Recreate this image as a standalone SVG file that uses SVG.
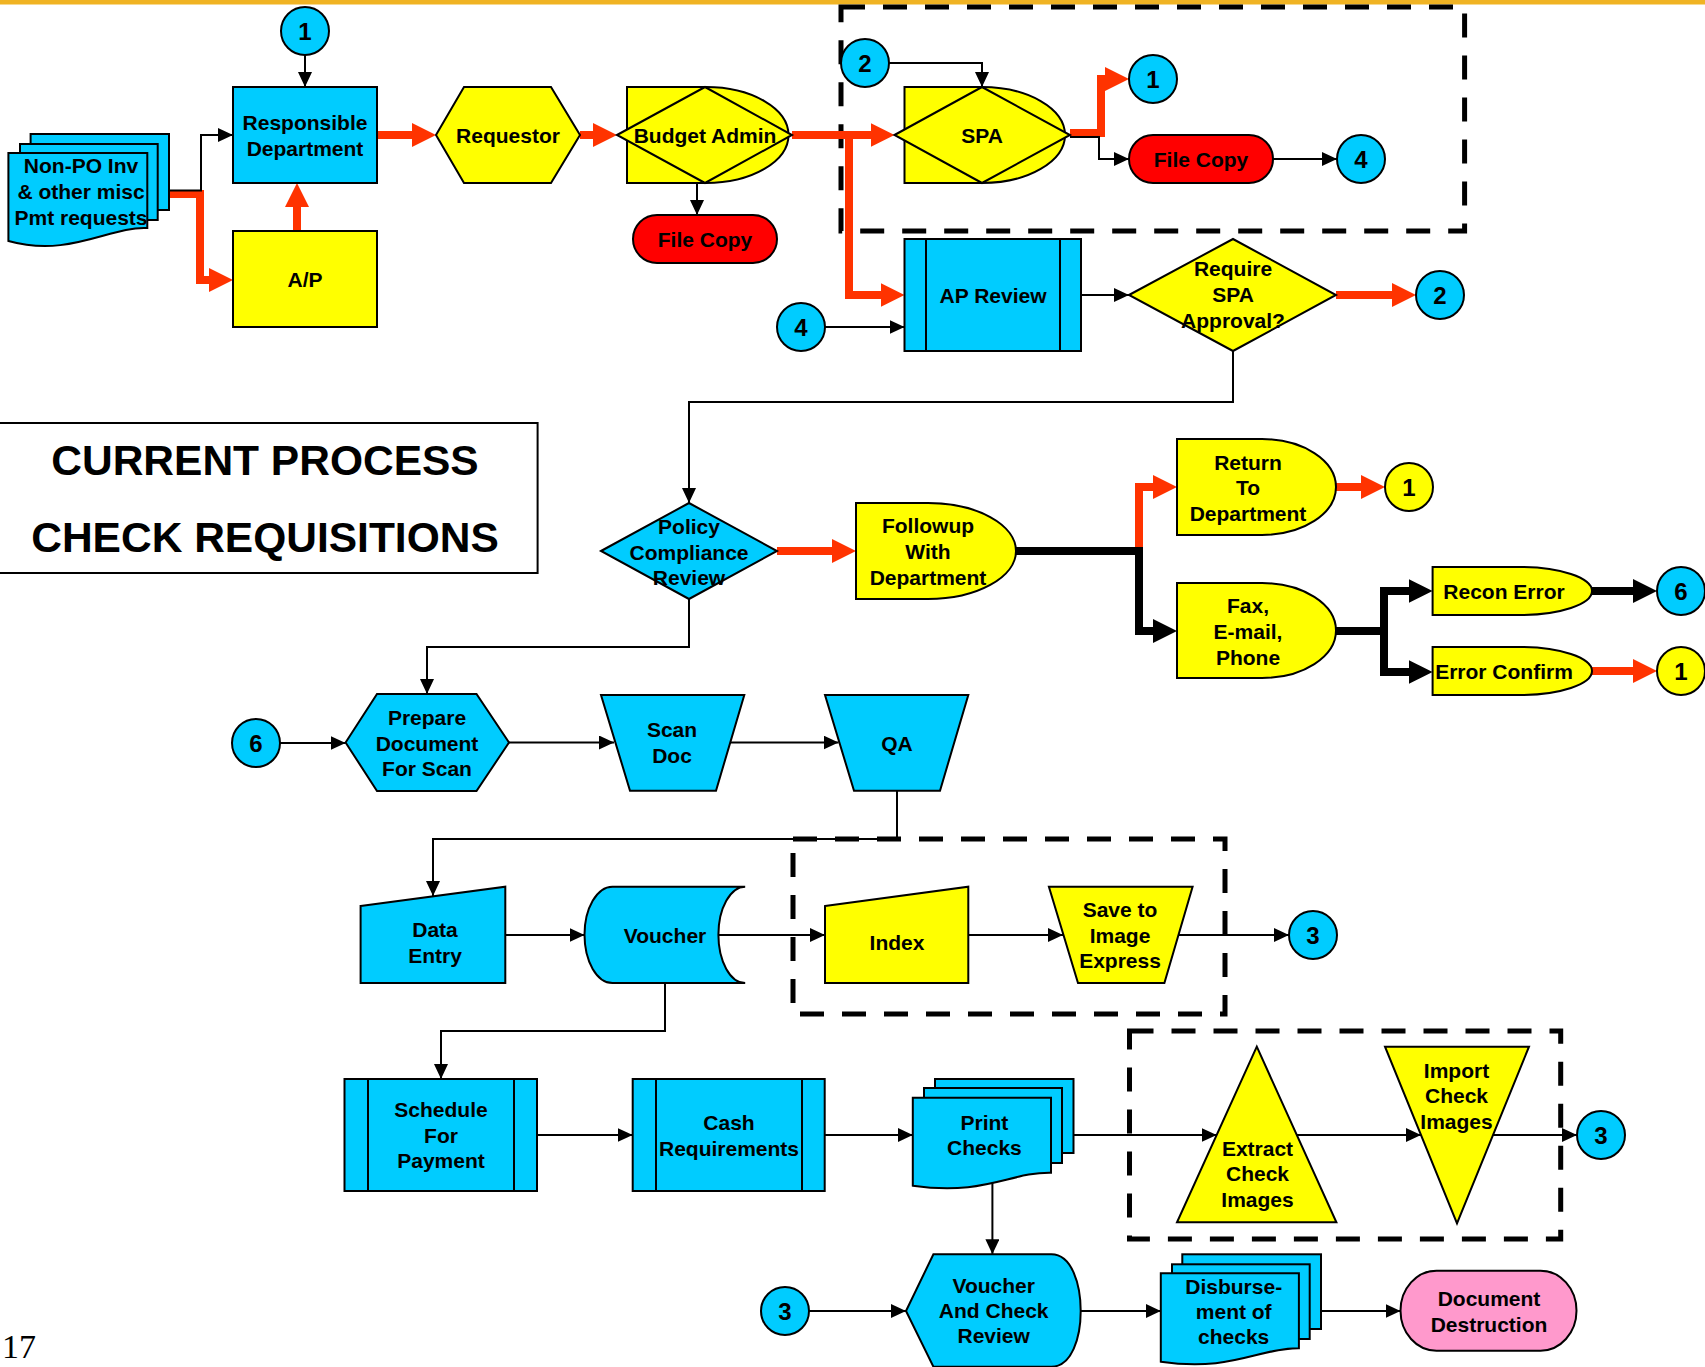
<svg xmlns="http://www.w3.org/2000/svg" width="1705" height="1367" viewBox="0 0 1705 1367">
  <style>
    text { font-family: "Liberation Sans", Arial, sans-serif; font-weight: bold; font-size: 21px; text-anchor: middle; fill: #000; }
    .title { font-size: 42.5px; }
    .num { font-size: 24px; }
    .page { font-family: "Liberation Serif", "Times New Roman", serif; font-weight: normal; font-size: 34px; text-anchor: start; }
    .blue { fill: #00CCFF; stroke: #000; stroke-width: 2; }
    .yel { fill: #FFFF00; stroke: #000; stroke-width: 2; }
    .red { fill: #FF0000; stroke: #000; stroke-width: 2; }
    .pink { fill: #FF99CC; stroke: #000; stroke-width: 2; }
    .line { fill: none; stroke: #000; stroke-width: 2; }
    .thin { fill: none; stroke: #000; stroke-width: 2; marker-end: url(#arr); }
    .hot { fill: none; stroke: #FF3300; stroke-width: 8; stroke-linejoin: miter; marker-end: url(#arrRed); }
    .heavy { fill: none; stroke: #000; stroke-width: 8; stroke-linejoin: miter; marker-end: url(#arrBlk); }
    .dash { fill: none; stroke: #000; stroke-width: 5; stroke-dasharray: 24 18; }
  </style>
  <defs>
    <marker id="arr" markerUnits="userSpaceOnUse" markerWidth="16" markerHeight="14" refX="15" refY="7" orient="auto">
      <path d="M0,0 L15,7 L0,14 z" fill="#000"/>
    </marker>
    <marker id="arrRed" markerUnits="userSpaceOnUse" markerWidth="25" markerHeight="24" refX="1" refY="12" orient="auto">
      <path d="M0,0 L24,12 L0,24 z" fill="#FF3300"/>
    </marker>
    <marker id="arrBlk" markerUnits="userSpaceOnUse" markerWidth="25" markerHeight="24" refX="1" refY="12" orient="auto">
      <path d="M0,0 L24,12 L0,24 z" fill="#000"/>
    </marker>
  </defs>

  <rect width="1705" height="1367" fill="#fff"/>
  <!-- top rule -->
  <rect x="0" y="0" width="1705" height="4.5" fill="#F0B323"/>

  <!-- dashed system boundaries -->
  <g id="boundaries">
    <rect class="dash" x="841" y="7" width="623.6" height="224"/>
    <rect class="dash" x="793" y="839" width="432" height="175"/>
    <rect class="dash" x="1129.5" y="1031" width="431.2" height="208"/>
  </g>

  <!-- connectors -->
  <g id="connectors">
    <path class="thin" d="M305,55 V87"/>
    <path class="hot" d="M169,194 H200 V280 H210"/>
    <path class="thin" d="M169,190.5 H201 V135 H233"/>
    <path class="hot" d="M297,231 V206"/>
    <path class="hot" d="M377,135 H413"/>
    <path class="hot" d="M580,135 H594"/>
    <path class="thin" d="M697,183 V215"/>
    <path class="hot" d="M792,135 H871.5"/>
    <path class="hot" d="M849,135 V295 H881.5"/>
    <path class="thin" d="M889,63 H982 V87"/>
    <path class="hot" d="M1070,133 H1101 V79 H1106"/>
    <path class="thin" d="M1070,137 H1099 V159 H1129"/>
    <path class="thin" d="M1273,159 H1337"/>
    <path class="thin" d="M825,327 H904.5"/>
    <path class="thin" d="M1081,295 H1129"/>
    <path class="hot" d="M1336,295 H1393"/>
    <path class="thin" d="M1233,351 V402 H689 V503"/>
    <path class="thin" d="M689,599 V647 H427 V694"/>
    <path class="hot" d="M777,551 H833"/>
    <path class="hot" d="M1139,547 V487 H1154"/>
    <path class="heavy" d="M1016,551 H1139 V631 H1154"/>
    <path class="hot" d="M1336,487 H1362"/>
    <path class="heavy" d="M1336,631 H1384 V591 H1409.6"/>
    <path class="heavy" d="M1384,631 V672 H1409.6"/>
    <path class="heavy" d="M1592,591 H1634"/>
    <path class="hot" d="M1592,671 H1634"/>
    <path class="thin" d="M280,743 H345.6"/>
    <path class="thin" d="M509,742.5 H614"/>
    <path class="thin" d="M731,742.5 H838.5"/>
    <path class="thin" d="M897,791 V839 H433 V896"/>
    <path class="thin" d="M505.3,935 H584.5"/>
    <path class="thin" d="M718.4,935 H825"/>
    <path class="thin" d="M968.3,935 H1063"/>
    <path class="thin" d="M1178,935 H1289"/>
    <path class="thin" d="M665,983 V1031 H441 V1079"/>
    <path class="thin" d="M537,1135 H632.7"/>
    <path class="thin" d="M824.7,1135 H912.8"/>
    <path class="thin" d="M1073.5,1135 H1216.7"/>
    <path class="thin" d="M1297,1135 H1421"/>
    <path class="thin" d="M1493,1135 H1577"/>
    <path class="thin" d="M992.4,1183 V1254.3"/>
    <path class="thin" d="M808.6,1311 H906"/>
    <path class="thin" d="M1080.7,1311 H1160.8"/>
    <path class="thin" d="M1321,1311 H1400.5"/>
  </g>

  <!-- title block -->
  <g id="title">
    <rect x="-1" y="423" width="538.6" height="150" fill="#fff" stroke="#000" stroke-width="2"/>
    <text class="title" x="265" y="475">CURRENT PROCESS</text>
    <text class="title" x="265" y="552">CHECK REQUISITIONS</text>
  </g>

  <!-- process nodes -->
  <g id="non-po-requests">
    <rect class="blue" x="30.6" y="134" width="138.4" height="76"/>
    <rect class="blue" x="20" y="144" width="137.7" height="76"/>
    <path class="blue" d="M8.4,153 H147.3 V228 C110,226 70,258 8.4,241 Z"/>
    <text x="81" y="173.3">Non-PO Inv</text>
    <text x="81" y="199">&amp; other misc</text>
    <text x="81" y="224.5">Pmt requests</text>
  </g>
  <g id="responsible-department">
    <rect class="blue" x="233" y="87" width="144" height="96"/>
    <text x="305" y="130">Responsible</text>
    <text x="305" y="155.5">Department</text>
  </g>
  <g id="ap">
    <rect class="yel" x="233" y="231" width="144" height="96"/>
    <text x="305" y="286.5">A/P</text>
  </g>
  <g id="requestor">
    <path class="yel" d="M436,135 L464,87 H551 L580,135 L551,183 H464 Z"/>
    <text x="508" y="142.5">Requestor</text>
  </g>
  <g id="budget-admin">
    <path class="yel" d="M627,87 H706 A82.5,48 0 0 1 706,183 H627 Z"/>
    <path class="yel" d="M617,135 L705,87 L792,135 L705,183 Z"/>
    <text x="705" y="143">Budget Admin</text>
  </g>
  <g id="file-copy-budget">
    <rect class="red" x="633" y="215" width="144" height="48" rx="24" ry="24"/>
    <text x="705" y="246.5">File Copy</text>
  </g>
  <g id="spa">
    <path class="yel" d="M904.5,87 H982 A83,48 0 0 1 982,183 H904.5 Z"/>
    <path class="yel" d="M894.5,135 L982,87 L1070,135 L982,183 Z"/>
    <text x="982" y="143">SPA</text>
  </g>
  <g id="file-copy-spa">
    <rect class="red" x="1129" y="135" width="144" height="48" rx="24" ry="24"/>
    <text x="1201" y="166.7">File Copy</text>
  </g>
  <g id="ap-review">
    <rect class="blue" x="904.5" y="239" width="176.5" height="112"/>
    <path class="line" d="M926,239 V351 M1060,239 V351"/>
    <text x="993" y="302.5">AP Review</text>
  </g>
  <g id="require-spa-approval">
    <path class="yel" d="M1129,295 L1233,239 L1336,295 L1233,351 Z"/>
    <text x="1233" y="276">Require</text>
    <text x="1233" y="302">SPA</text>
    <text x="1233" y="328">Approval?</text>
  </g>
  <g id="policy-compliance-review">
    <path class="blue" d="M601,551 L689,503 L777,551 L689,599 Z"/>
    <text x="689" y="533.5">Policy</text>
    <text x="689" y="559.5">Compliance</text>
    <text x="689" y="585">Review</text>
  </g>
  <g id="followup">
    <path class="yel" d="M856,503 H928 A88,48 0 0 1 928,599 H856 Z"/>
    <text x="928" y="533">Followup</text>
    <text x="928" y="559">With</text>
    <text x="928" y="585">Department</text>
  </g>
  <g id="return-to-department">
    <path class="yel" d="M1177,439 H1262 A74,48 0 0 1 1262,535 H1177 Z"/>
    <text x="1248" y="469.5">Return</text>
    <text x="1248" y="495">To</text>
    <text x="1248" y="521">Department</text>
  </g>
  <g id="fax-email-phone">
    <path class="yel" d="M1177,583 H1262 A74,47.5 0 0 1 1262,678 H1177 Z"/>
    <text x="1248" y="612.7">Fax,</text>
    <text x="1248" y="638.5">E-mail,</text>
    <text x="1248" y="664.5">Phone</text>
  </g>
  <g id="recon-error">
    <path class="yel" d="M1432.6,567 H1520 A72,24 0 0 1 1520,615 H1432.6 Z"/>
    <text x="1504" y="599">Recon Error</text>
  </g>
  <g id="error-confirm">
    <path class="yel" d="M1432.6,647 H1520 A72,24 0 0 1 1520,695 H1432.6 Z"/>
    <text x="1504" y="679">Error Confirm</text>
  </g>
  <g id="prepare-document">
    <path class="blue" d="M345.6,742.5 L377,694 H476.5 L509,742.5 L476.5,791 H377 Z"/>
    <text x="427" y="725">Prepare</text>
    <text x="427" y="750.7">Document</text>
    <text x="427" y="776">For Scan</text>
  </g>
  <g id="scan-doc">
    <path class="blue" d="M601,695 H744.3 L716,790.7 H630 Z"/>
    <text x="672" y="737.3">Scan</text>
    <text x="672" y="763.3">Doc</text>
  </g>
  <g id="qa">
    <path class="blue" d="M825,695 H968.3 L940,790.7 H854 Z"/>
    <text x="897" y="750.7">QA</text>
  </g>
  <g id="data-entry">
    <path class="blue" d="M360.6,906 L505.3,886.7 V983 H360.6 Z"/>
    <text x="435" y="936.7">Data</text>
    <text x="435" y="962.7">Entry</text>
  </g>
  <g id="voucher">
    <path class="blue" d="M612.4,886.7 H745.2 A26.8,48.15 0 0 0 745.2,983 H612.4 A27.9,48.15 0 0 1 612.4,886.7 Z"/>
    <text x="665" y="942.7">Voucher</text>
  </g>
  <g id="index">
    <path class="yel" d="M825,906 L968.3,886.7 V983 H825 Z"/>
    <text x="897" y="950">Index</text>
  </g>
  <g id="save-to-image-express">
    <path class="yel" d="M1048.9,886.7 H1192.6 L1164.4,983 H1078 Z"/>
    <text x="1120" y="916.7">Save to</text>
    <text x="1120" y="943">Image</text>
    <text x="1120" y="968.3">Express</text>
  </g>
  <g id="schedule-for-payment">
    <rect class="blue" x="344.5" y="1079" width="192.5" height="112"/>
    <path class="line" d="M368,1079 V1191 M514,1079 V1191"/>
    <text x="441" y="1116.7">Schedule</text>
    <text x="441" y="1142.7">For</text>
    <text x="441" y="1167.7">Payment</text>
  </g>
  <g id="cash-requirements">
    <rect class="blue" x="632.7" y="1079" width="192" height="112"/>
    <path class="line" d="M656,1079 V1191 M802,1079 V1191"/>
    <text x="729" y="1130">Cash</text>
    <text x="729" y="1156">Requirements</text>
  </g>
  <g id="print-checks">
    <rect class="blue" x="935" y="1079" width="138.5" height="74"/>
    <rect class="blue" x="924" y="1088" width="138" height="75"/>
    <path class="blue" d="M912.8,1097.7 H1051 V1172.7 C1010,1172 985,1196 912.8,1185.7 Z"/>
    <text x="984.4" y="1130">Print</text>
    <text x="984.4" y="1155">Checks</text>
  </g>
  <g id="extract-check-images">
    <path class="yel" d="M1256.8,1046.7 L1336.4,1222.3 H1177 Z"/>
    <text x="1257.5" y="1156">Extract</text>
    <text x="1257.5" y="1181">Check</text>
    <text x="1257.5" y="1206.7">Images</text>
  </g>
  <g id="import-check-images">
    <path class="yel" d="M1385,1046.7 H1529 L1457,1223.3 Z"/>
    <text x="1456.5" y="1078.3">Import</text>
    <text x="1456.5" y="1103.3">Check</text>
    <text x="1456.5" y="1129.3">Images</text>
  </g>
  <g id="voucher-and-check-review">
    <path class="blue" d="M906,1311 L933.4,1254.3 H1051.4 C1072,1254.3 1080.7,1285 1080.7,1311 C1080.7,1337 1072,1366.7 1051.4,1366.7 H933.4 Z"/>
    <text x="993.7" y="1293.3">Voucher</text>
    <text x="993.7" y="1318.3">And Check</text>
    <text x="993.7" y="1343.3">Review</text>
  </g>
  <g id="disbursement">
    <rect class="blue" x="1182.3" y="1254.3" width="138.7" height="74.7"/>
    <rect class="blue" x="1172" y="1264.3" width="137.7" height="74.7"/>
    <path class="blue" d="M1160.8,1273.3 H1298.9 V1348.3 C1258,1348 1232,1372 1160.8,1361.7 Z"/>
    <text x="1233.7" y="1294.3">Disburse-</text>
    <text x="1233.7" y="1319.3">ment of</text>
    <text x="1233.7" y="1344.3">checks</text>
  </g>
  <g id="document-destruction">
    <rect class="pink" x="1400.5" y="1270.7" width="176" height="80" rx="36" ry="40"/>
    <text x="1489" y="1305.7">Document</text>
    <text x="1489" y="1331.7">Destruction</text>
  </g>

  <!-- off-page references -->
  <g id="ref-1-top"><circle class="blue" cx="305" cy="31" r="24"/><text class="num" x="305" y="39.5">1</text></g>
  <g id="ref-2-spa"><circle class="blue" cx="865" cy="63" r="24"/><text class="num" x="865" y="71.5">2</text></g>
  <g id="ref-1-spa"><circle class="blue" cx="1153" cy="79" r="24"/><text class="num" x="1153" y="87.5">1</text></g>
  <g id="ref-4-out"><circle class="blue" cx="1361" cy="159" r="24"/><text class="num" x="1361" y="167.5">4</text></g>
  <g id="ref-4-in"><circle class="blue" cx="801" cy="327" r="24"/><text class="num" x="801" y="335.5">4</text></g>
  <g id="ref-2-out"><circle class="blue" cx="1440" cy="295" r="24"/><text class="num" x="1440" y="303.5">2</text></g>
  <g id="ref-1-return"><circle class="yel" cx="1409" cy="487" r="24"/><text class="num" x="1409" y="495.5">1</text></g>
  <g id="ref-6-out"><circle class="blue" cx="1681" cy="591" r="24"/><text class="num" x="1681" y="599.5">6</text></g>
  <g id="ref-1-confirm"><circle class="yel" cx="1681" cy="671" r="24"/><text class="num" x="1681" y="679.5">1</text></g>
  <g id="ref-6-in"><circle class="blue" cx="256" cy="743" r="24"/><text class="num" x="256" y="751.5">6</text></g>
  <g id="ref-3-save"><circle class="blue" cx="1313" cy="935" r="24"/><text class="num" x="1313" y="943.5">3</text></g>
  <g id="ref-3-import"><circle class="blue" cx="1601" cy="1135" r="24"/><text class="num" x="1601" y="1143.5">3</text></g>
  <g id="ref-3-in"><circle class="blue" cx="785" cy="1311" r="24"/><text class="num" x="785" y="1319.5">3</text></g>

  <text class="page" x="2" y="1358">17</text>
</svg>
